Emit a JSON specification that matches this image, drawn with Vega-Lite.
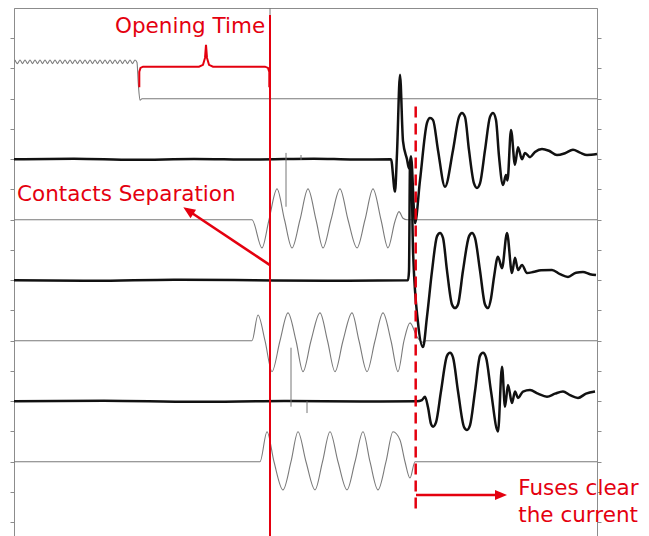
{
  "$schema": "https://vega.github.io/schema/vega-lite/v6.json",
  "width": 583,
  "height": 528,
  "autosize": {"type": "none"},
  "padding": {"left": 14, "top": 8, "right": 52, "bottom": 0},
  "config": {"view": {"stroke": "#8c8c8c", "strokeWidth": 1}, "font": "DejaVu Sans"},
  "datasets": {
    "tr": [
      {"s":"ctrl","t":1,"v":16.28},{"s":"ctrl","t":3.5,"v":16.16},{"s":"ctrl","t":6,"v":16.28},{"s":"ctrl","t":8.5,"v":16.16},{"s":"ctrl","t":11,"v":16.28},{"s":"ctrl","t":13.5,"v":16.16},{"s":"ctrl","t":16,"v":16.28},{"s":"ctrl","t":18.5,"v":16.16},{"s":"ctrl","t":21,"v":16.28},{"s":"ctrl","t":23.5,"v":16.16},{"s":"ctrl","t":26,"v":16.28},{"s":"ctrl","t":28.5,"v":16.16},{"s":"ctrl","t":31,"v":16.28},{"s":"ctrl","t":33.5,"v":16.16},{"s":"ctrl","t":36,"v":16.28},{"s":"ctrl","t":38.5,"v":16.16},{"s":"ctrl","t":41,"v":16.28},{"s":"ctrl","t":43.5,"v":16.16},{"s":"ctrl","t":46,"v":16.28},{"s":"ctrl","t":48.5,"v":16.16},{"s":"ctrl","t":51,"v":16.28},{"s":"ctrl","t":53.5,"v":16.16},{"s":"ctrl","t":56,"v":16.28},{"s":"ctrl","t":58.5,"v":16.16},{"s":"ctrl","t":61,"v":16.28},{"s":"ctrl","t":63.5,"v":16.16},{"s":"ctrl","t":66,"v":16.28},{"s":"ctrl","t":68.5,"v":16.16},{"s":"ctrl","t":71,"v":16.28},{"s":"ctrl","t":73.5,"v":16.16},{"s":"ctrl","t":76,"v":16.28},{"s":"ctrl","t":78.5,"v":16.16},{"s":"ctrl","t":81,"v":16.28},{"s":"ctrl","t":83.5,"v":16.16},{"s":"ctrl","t":86,"v":16.28},{"s":"ctrl","t":88.5,"v":16.16},{"s":"ctrl","t":91,"v":16.28},{"s":"ctrl","t":93.5,"v":16.16},{"s":"ctrl","t":96,"v":16.28},{"s":"ctrl","t":98.5,"v":16.16},{"s":"ctrl","t":101,"v":16.28},{"s":"ctrl","t":103.5,"v":16.16},{"s":"ctrl","t":106,"v":16.28},{"s":"ctrl","t":108.5,"v":16.16},{"s":"ctrl","t":111,"v":16.28},{"s":"ctrl","t":113.5,"v":16.16},{"s":"ctrl","t":116,"v":16.28},{"s":"ctrl","t":118.5,"v":16.16},{"s":"ctrl","t":121,"v":16.28},{"s":"ctrl","t":123,"v":16.2},{"s":"ctrl","t":124.3,"v":15.5},{"s":"ctrl","t":126,"v":14.95},{"s":"ctrl","t":128,"v":15},{"s":"ctrl","t":583,"v":15},

      {"s":"g1","t":0,"v":11},{"s":"g1","t":238,"v":11},{"s":"g1","t":248,"v":10.07},{"s":"g1","t":255,"v":11},{"s":"g1","t":263,"v":12.02},{"s":"g1","t":270.5,"v":11},{"s":"g1","t":278,"v":10.07},{"s":"g1","t":286,"v":11},{"s":"g1","t":294,"v":12.02},{"s":"g1","t":302,"v":11},{"s":"g1","t":309,"v":10.07},{"s":"g1","t":317,"v":11},{"s":"g1","t":326,"v":12.02},{"s":"g1","t":334,"v":11},{"s":"g1","t":343,"v":10.07},{"s":"g1","t":351,"v":11},{"s":"g1","t":359,"v":12.02},{"s":"g1","t":367,"v":11},{"s":"g1","t":374,"v":10.07},{"s":"g1","t":381,"v":10.95},{"s":"g1","t":385,"v":11.27},{"s":"g1","t":389,"v":11.05},{"s":"g1","t":393,"v":11},{"s":"g1","t":583,"v":11},

      {"s":"g2","t":0,"v":7},{"s":"g2","t":238,"v":7},{"s":"g2","t":244,"v":7.85},{"s":"g2","t":251,"v":7},{"s":"g2","t":258,"v":5.98},{"s":"g2","t":266,"v":7},{"s":"g2","t":274,"v":7.92},{"s":"g2","t":282,"v":7},{"s":"g2","t":289,"v":5.98},{"s":"g2","t":297,"v":7},{"s":"g2","t":306,"v":7.92},{"s":"g2","t":313.5,"v":7},{"s":"g2","t":321,"v":5.98},{"s":"g2","t":329,"v":7},{"s":"g2","t":338,"v":7.92},{"s":"g2","t":345,"v":7},{"s":"g2","t":353,"v":5.98},{"s":"g2","t":361,"v":7},{"s":"g2","t":369,"v":7.92},{"s":"g2","t":377,"v":7},{"s":"g2","t":384,"v":5.98},{"s":"g2","t":390,"v":7},{"s":"g2","t":396,"v":7.59},{"s":"g2","t":403,"v":7.13},{"s":"g2","t":409,"v":6.95},{"s":"g2","t":412,"v":7},{"s":"g2","t":583,"v":7},

      {"s":"g3","t":0,"v":3},{"s":"g3","t":246,"v":3},{"s":"g3","t":253,"v":3.99},{"s":"g3","t":260,"v":3},{"s":"g3","t":269,"v":2.07},{"s":"g3","t":277,"v":3},{"s":"g3","t":284,"v":3.99},{"s":"g3","t":292,"v":3},{"s":"g3","t":301,"v":2.07},{"s":"g3","t":308.5,"v":3},{"s":"g3","t":316,"v":3.99},{"s":"g3","t":324,"v":3},{"s":"g3","t":333,"v":2.07},{"s":"g3","t":341,"v":3},{"s":"g3","t":349,"v":3.99},{"s":"g3","t":356,"v":3},{"s":"g3","t":364,"v":2.07},{"s":"g3","t":372,"v":3},{"s":"g3","t":379,"v":3.99},{"s":"g3","t":386,"v":3.72},{"s":"g3","t":391,"v":3},{"s":"g3","t":396,"v":2.46},{"s":"g3","t":401,"v":3},{"s":"g3","t":583,"v":3},

      {"s":"b1","t":0,"v":13},{"s":"b1","t":60,"v":13.02},{"s":"b1","t":120,"v":12.98},{"s":"b1","t":180,"v":13.01},{"s":"b1","t":240,"v":12.99},{"s":"b1","t":300,"v":13.02},{"s":"b1","t":340,"v":12.99},{"s":"b1","t":377,"v":13},{"s":"b1","t":381,"v":11.93},{"s":"b1","t":383,"v":13.2},{"s":"b1","t":386,"v":15.79},{"s":"b1","t":389,"v":13.6},{"s":"b1","t":393,"v":13},{"s":"b1","t":395,"v":12.7},{"s":"b1","t":397,"v":13.1},{"s":"b1","t":401,"v":10.89},{"s":"b1","t":406,"v":12.3},{"s":"b1","t":413,"v":14.2},{"s":"b1","t":416,"v":14.36},{"s":"b1","t":419,"v":14.3},{"s":"b1","t":424,"v":13.3},{"s":"b1","t":431,"v":12.09},{"s":"b1","t":439,"v":13.3},{"s":"b1","t":445,"v":14.4},{"s":"b1","t":448,"v":14.53},{"s":"b1","t":451,"v":14.4},{"s":"b1","t":455,"v":13.3},{"s":"b1","t":460,"v":12.2},{"s":"b1","t":463,"v":12.05},{"s":"b1","t":466,"v":12.2},{"s":"b1","t":471,"v":13.3},{"s":"b1","t":476,"v":14.4},{"s":"b1","t":479,"v":14.53},{"s":"b1","t":482,"v":14.3},{"s":"b1","t":485,"v":13.1},{"s":"b1","t":489,"v":12.15},{"s":"b1","t":492,"v":12.48},{"s":"b1","t":493.5,"v":12.3},{"s":"b1","t":497,"v":13.97},{"s":"b1","t":501,"v":12.82},{"s":"b1","t":504,"v":13.4},{"s":"b1","t":508,"v":13.0},{"s":"b1","t":511,"v":13.21},{"s":"b1","t":516,"v":13.07},{"s":"b1","t":521,"v":13.24},{"s":"b1","t":528,"v":13.34},{"s":"b1","t":535,"v":13.28},{"s":"b1","t":543,"v":13.14},{"s":"b1","t":551,"v":13.2},{"s":"b1","t":559,"v":13.31},{"s":"b1","t":566,"v":13.22},{"s":"b1","t":573,"v":13.14},{"s":"b1","t":583,"v":13.17},

      {"s":"b2","t":0,"v":9},{"s":"b2","t":80,"v":8.98},{"s":"b2","t":160,"v":9.02},{"s":"b2","t":240,"v":9},{"s":"b2","t":320,"v":8.98},{"s":"b2","t":394,"v":9},{"s":"b2","t":395,"v":9.3},{"s":"b2","t":396,"v":12.8},{"s":"b2","t":397.5,"v":12.5},{"s":"b2","t":399,"v":10},{"s":"b2","t":404,"v":7.6},{"s":"b2","t":409,"v":6.79},{"s":"b2","t":413,"v":7.8},{"s":"b2","t":418,"v":9.3},{"s":"b2","t":423,"v":10.45},{"s":"b2","t":426,"v":10.56},{"s":"b2","t":429,"v":10.4},{"s":"b2","t":433,"v":9.32},{"s":"b2","t":438,"v":8.2},{"s":"b2","t":441,"v":8.08},{"s":"b2","t":444,"v":8.2},{"s":"b2","t":449,"v":9.32},{"s":"b2","t":455,"v":10.45},{"s":"b2","t":458,"v":10.56},{"s":"b2","t":461,"v":10.4},{"s":"b2","t":466,"v":9.32},{"s":"b2","t":471,"v":8.2},{"s":"b2","t":474,"v":8.08},{"s":"b2","t":477,"v":8.4},{"s":"b2","t":480,"v":9.1},{"s":"b2","t":484,"v":9.78},{"s":"b2","t":488,"v":9.4},{"s":"b2","t":493,"v":10.56},{"s":"b2","t":498,"v":9.24},{"s":"b2","t":501,"v":9.74},{"s":"b2","t":504,"v":9.34},{"s":"b2","t":508,"v":9.5},{"s":"b2","t":513,"v":9.24},{"s":"b2","t":519,"v":9.27},{"s":"b2","t":527,"v":9.33},{"s":"b2","t":538,"v":9.34},{"s":"b2","t":546,"v":9.2},{"s":"b2","t":554,"v":9.11},{"s":"b2","t":562,"v":9.25},{"s":"b2","t":569,"v":9.27},{"s":"b2","t":576,"v":9.2},{"s":"b2","t":582,"v":9.17},

      {"s":"b3","t":0,"v":5},{"s":"b3","t":90,"v":5.02},{"s":"b3","t":180,"v":4.98},{"s":"b3","t":270,"v":5.01},{"s":"b3","t":350,"v":4.99},{"s":"b3","t":403,"v":5},{"s":"b3","t":408,"v":5.04},{"s":"b3","t":411,"v":5.15},{"s":"b3","t":414,"v":4.8},{"s":"b3","t":417,"v":4.25},{"s":"b3","t":419,"v":4.16},{"s":"b3","t":422,"v":4.3},{"s":"b3","t":427,"v":5.33},{"s":"b3","t":433,"v":6.5},{"s":"b3","t":436,"v":6.6},{"s":"b3","t":439,"v":6.45},{"s":"b3","t":444,"v":5.33},{"s":"b3","t":450,"v":4.15},{"s":"b3","t":453,"v":4.05},{"s":"b3","t":456,"v":4.2},{"s":"b3","t":461,"v":5.33},{"s":"b3","t":466,"v":6.5},{"s":"b3","t":469,"v":6.6},{"s":"b3","t":472,"v":6.45},{"s":"b3","t":477,"v":5.33},{"s":"b3","t":484,"v":4.0},{"s":"b3","t":488,"v":6.14},{"s":"b3","t":491,"v":4.82},{"s":"b3","t":494,"v":5.54},{"s":"b3","t":498,"v":4.94},{"s":"b3","t":501,"v":5.32},{"s":"b3","t":504,"v":5.11},{"s":"b3","t":509,"v":5.32},{"s":"b3","t":516,"v":5.37},{"s":"b3","t":524,"v":5.25},{"s":"b3","t":533,"v":5.15},{"s":"b3","t":541,"v":5.25},{"s":"b3","t":549,"v":5.32},{"s":"b3","t":556,"v":5.2},{"s":"b3","t":564,"v":5.11},{"s":"b3","t":572,"v":5.25},{"s":"b3","t":581,"v":5.32}
    ],
    "spikes": [
      {"t":272,"v1":13.21,"v2":11.43},
      {"t":287,"v1":13.14,"v2":12.98},
      {"t":277,"v1":6.77,"v2":4.82},
      {"t":293,"v1":5.0,"v2":4.61},
      {"t":256,"v1":18,"v2":17.77}
    ],
    "brace": [
      {"i":0,"t":125.3,"v":15.38},{"i":1,"t":125.3,"v":15.89},{"i":2,"t":126.5,"v":16.02},{"i":3,"t":129,"v":16.06},{"i":4,"t":185,"v":16.06},{"i":5,"t":189,"v":16.12},{"i":6,"t":191,"v":16.35},{"i":7,"t":192,"v":16.78},{"i":8,"t":193,"v":16.35},{"i":9,"t":195,"v":16.12},{"i":10,"t":199,"v":16.06},{"i":11,"t":251,"v":16.06},{"i":12,"t":254,"v":16.02},{"i":13,"t":255.3,"v":15.89},{"i":14,"t":255.3,"v":15.38}
    ],
    "arrows": [
      {"t1":256,"v1":9.5,"t2":172.6,"v2":11.34},
      {"t1":402,"v1":1.9,"t2":488,"v2":1.9}
    ],
    "heads": [
      {"t":169.3,"v":11.41,"a":303.6},
      {"t":493,"v":1.9,"a":90}
    ],
    "labels": [
      {"t":101,"v":17.18,"txt":"Opening Time"},
      {"t":3,"v":11.63,"txt":"Contacts Separation"},
      {"t":504.3,"v":1.9,"txt":"Fuses clear"},
      {"t":504.3,"v":1.02,"txt":"the current"}
    ]
  },
  "layer": [
    {
      "data": {"name": "tr"},
      "transform": [{"filter": "datum.s === 'ctrl' || datum.s === 'g1' || datum.s === 'g2' || datum.s === 'g3'"}],
      "mark": {"type": "line", "color": "#7a7a7a", "strokeWidth": 1.1, "interpolate": "monotone"},
      "encoding": {
        "x": {"field": "t", "type": "quantitative", "scale": {"domain": [0, 583], "nice": false, "zero": false}, "axis": null},
        "y": {"field": "v", "type": "quantitative", "scale": {"domain": [0.545, 18], "nice": false, "zero": false},
              "axis": {"orient": "left", "values": [1,2,3,4,5,6,7,8,9,10,11,12,13,14,15,16,17], "labels": false, "title": null, "grid": false, "domain": true, "domainColor": "#8c8c8c", "ticks": true, "tickSize": 4, "tickColor": "#8c8c8c"}},
        "detail": {"field": "s"}
      }
    },
    {
      "data": {"name": "tr"},
      "transform": [{"filter": "datum.s === 'b1' || datum.s === 'b2' || datum.s === 'b3'"}],
      "mark": {"type": "line", "color": "#111111", "strokeWidth": 2.5, "interpolate": "monotone"},
      "encoding": {
        "x": {"field": "t", "type": "quantitative", "axis": null},
        "y": {"field": "v", "type": "quantitative",
              "axis": {"orient": "right", "values": [1,2,3,4,5,6,7,8,9,10,11,12,13,14,15,16,17], "labels": false, "title": null, "grid": false, "domain": true, "domainColor": "#8c8c8c", "ticks": true, "tickSize": 4, "tickColor": "#8c8c8c"}},
        "detail": {"field": "s"}
      }
    },
    {
      "data": {"name": "spikes"},
      "mark": {"type": "rule", "color": "#777777", "strokeWidth": 1},
      "encoding": {
        "x": {"field": "t", "type": "quantitative", "axis": null},
        "y": {"field": "v1", "type": "quantitative", "axis": null},
        "y2": {"field": "v2"}
      }
    },
    {
      "data": {"values": [{"t": 256, "v1": 17.77, "v2": 0.545}]},
      "mark": {"type": "rule", "color": "#e4000f", "strokeWidth": 2},
      "encoding": {
        "x": {"field": "t", "type": "quantitative", "axis": null},
        "y": {"field": "v1", "type": "quantitative", "axis": null},
        "y2": {"field": "v2"}
      }
    },
    {
      "data": {"values": [{"t": 401.7, "v1": 14.74, "v2": 1.31}]},
      "mark": {"type": "rule", "color": "#e4000f", "strokeWidth": 2.5, "strokeDash": [11, 6]},
      "encoding": {
        "x": {"field": "t", "type": "quantitative", "axis": null},
        "y": {"field": "v1", "type": "quantitative", "axis": null},
        "y2": {"field": "v2"}
      }
    },
    {
      "data": {"name": "brace"},
      "mark": {"type": "line", "color": "#e4000f", "strokeWidth": 2, "interpolate": "linear"},
      "encoding": {
        "x": {"field": "t", "type": "quantitative", "axis": null},
        "y": {"field": "v", "type": "quantitative", "axis": null},
        "order": {"field": "i", "type": "quantitative"}
      }
    },
    {
      "data": {"name": "arrows"},
      "mark": {"type": "rule", "color": "#e4000f", "strokeWidth": 2.6},
      "encoding": {
        "x": {"field": "t1", "type": "quantitative", "axis": null},
        "x2": {"field": "t2"},
        "y": {"field": "v1", "type": "quantitative", "axis": null},
        "y2": {"field": "v2"}
      }
    },
    {
      "data": {"name": "heads"},
      "mark": {"type": "point", "shape": "M0,0L-1,2.4L1,2.4Z", "size": 100, "filled": true, "color": "#e4000f", "opacity": 1, "strokeWidth": 0},
      "encoding": {
        "x": {"field": "t", "type": "quantitative", "axis": null},
        "y": {"field": "v", "type": "quantitative", "axis": null},
        "angle": {"field": "a", "type": "quantitative", "scale": null}
      }
    },
    {
      "data": {"name": "labels"},
      "mark": {"type": "text", "align": "left", "baseline": "alphabetic", "fontSize": 21.5, "color": "#e4000f", "font": "DejaVu Sans"},
      "encoding": {
        "x": {"field": "t", "type": "quantitative", "axis": null},
        "y": {"field": "v", "type": "quantitative", "axis": null},
        "text": {"field": "txt"}
      }
    }
  ],
  "resolve": {"axis": {"y": "independent"}}
}
